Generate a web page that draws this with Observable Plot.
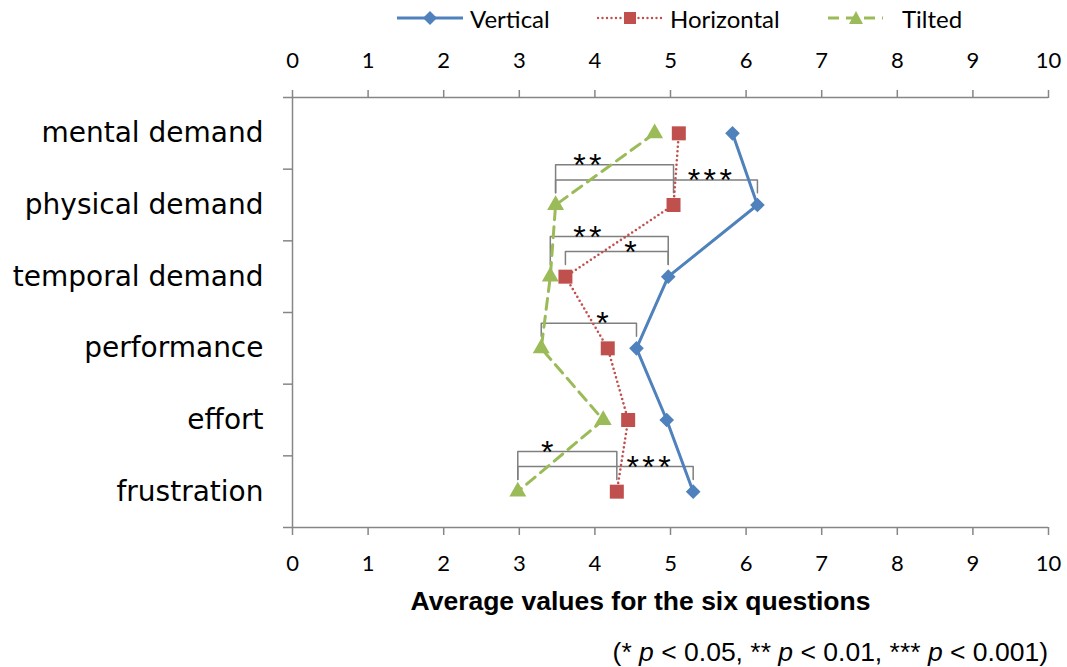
<!DOCTYPE html>
<html><head><meta charset="utf-8">
<script src="https://cdn.jsdelivr.net/npm/d3@7"></script>
<script src="https://cdn.jsdelivr.net/npm/@observablehq/plot@0.6"></script>
<style>
body{margin:0;background:#fff;width:1067px;height:667px;overflow:hidden;font-family:Lato,sans-serif}
#legend{position:relative;height:38px}
.item{position:absolute;top:-1px;height:38px;display:flex;align-items:center;font-size:24px;color:#000;white-space:nowrap}
.item svg{margin-right:7px;display:block}
#chart svg{display:block}
#caption{font-family:"Liberation Sans",Arial,sans-serif;font-size:26.5px;text-align:right;padding-right:19px;line-height:28px;color:#000}
</style></head><body>
<div id="legend"></div>
<div id="chart"></div>
<div id="caption">(* <i>p</i> &lt; 0.05, ** <i>p</i> &lt; 0.01, *** <i>p</i> &lt; 0.001)</div>
<script>
// ---- data ----
const categories = ["mental demand", "physical demand", "temporal demand", "performance", "effort", "frustration"];
const seriesNames = ["Vertical", "Horizontal", "Tilted"];
const vertical   = [5.82, 6.15, 4.97, 4.55, 4.95, 5.30];
const horizontal = [5.11, 5.04, 3.61, 4.17, 4.44, 4.29];
const tilted     = [4.79, 3.48, 3.41, 3.29, 4.11, 2.98];
const xTicks = [0, 1, 2, 3, 4, 5, 6, 7, 8, 9, 10];
const xTitle = "Average values for the six questions";

// significance brackets
const bracketCategory = ["physical demand", "physical demand", "temporal demand", "temporal demand", "performance", "frustration", "frustration"];
const bracketFrom  = ["Tilted", "Tilted", "Tilted", "Horizontal", "Tilted", "Tilted", "Tilted"];
const bracketTo    = ["Horizontal", "Vertical", "Vertical", "Vertical", "Vertical", "Horizontal", "Vertical"];
const bracketLevel = [2, 1, 2, 1, 1, 2, 1];
const bracketLabel = ["**", "***", "**", "*", "*", "*", "***"];
const bracketLabelX = [3.90, 5.52, 3.90, 4.47, 4.10, 3.37, 4.71];

// ---- styles ----
const colors = {Vertical: "#4F81BD", Horizontal: "#C0504D", Tilted: "#9BBB59"};
const axisGray = "#868686";

// ---- build tables ----
const seriesValues = {Vertical: vertical, Horizontal: horizontal, Tilted: tilted};
const rows = [];
seriesNames.forEach(s => categories.forEach((c, i) => rows.push({series: s, category: c, pos: i + 0.5, value: seriesValues[s][i]})));
const bySeries = s => rows.filter(r => r.series === s);

const levelOffset = {1: -0.35, 2: -0.56};
const legOffset = -0.17;
const bracketPts = [];
const bracketLabels = [];
bracketCategory.forEach((c, b) => {
  const i = categories.indexOf(c);
  const yc = i + 0.5;
  const x1 = seriesValues[bracketFrom[b]][i];
  const x2 = seriesValues[bracketTo[b]][i];
  const top = yc + levelOffset[bracketLevel[b]];
  const leg = yc + legOffset;
  bracketPts.push({id: b, x: x1, y: leg}, {id: b, x: x1, y: top}, {id: b, x: x2, y: top}, {id: b, x: x2, y: leg});
  bracketLabels.push({x: bracketLabelX[b], y: top, label: bracketLabel[b]});
});

// ---- legend ----
const legendLeft = {Vertical: 397, Horizontal: 597, Tilted: 828};
const legend = document.getElementById("legend");
const swatch = {
  Vertical: `<svg width="66" height="38"><line x1="0" y1="19" x2="66" y2="19" stroke="${colors.Vertical}" stroke-width="3"/><polygon points="33,12 40,19 33,26 26,19" fill="${colors.Vertical}"/></svg>`,
  Horizontal: `<svg width="66" height="38"><line x1="1" y1="19" x2="66" y2="19" stroke="${colors.Horizontal}" stroke-width="2.4" stroke-dasharray="0 4.5" stroke-linecap="round"/><rect x="27" y="13" width="12" height="12" fill="${colors.Horizontal}"/></svg>`,
  Tilted: `<svg width="67" height="38"><line x1="0" y1="19" x2="55" y2="19" stroke="${colors.Tilted}" stroke-width="3" stroke-dasharray="11 7"/><polygon points="28,12 35,25 21,25" fill="${colors.Tilted}"/></svg>`
};
seriesNames.forEach(s => {
  const d = document.createElement("div");
  d.className = "item";
  d.style.left = legendLeft[s] + "px";
  d.innerHTML = swatch[s] + `<span>${s}</span>`;
  legend.appendChild(d);
});

// ---- chart ----
const chart = Plot.plot({
  width: 1067, height: 600,
  marginLeft: 292, marginRight: 19, marginTop: 59, marginBottom: 111,
  x: {domain: [0, 10]},
  y: {domain: [0, 6], reverse: true},
  style: {fontFamily: "Lato, sans-serif", background: "white", color: "black", overflow: "visible"},
  marks: [
    Plot.ruleY([0, 6], {stroke: axisGray, strokeWidth: 1.5}),
    Plot.ruleX([0], {stroke: axisGray, strokeWidth: 1.5}),
    Plot.axisX({anchor: "top", ticks: xTicks, tickSize: 8, tickPadding: 22, fontSize: 22, stroke: axisGray, strokeWidth: 1.5, fill: "black", label: null}),
    Plot.axisX({anchor: "bottom", ticks: xTicks, tickSize: 8, tickPadding: 20, fontSize: 22, stroke: axisGray, strokeWidth: 1.5, fill: "black", label: null}),
    Plot.axisY({ticks: d3.range(7), tickSize: 9, tickFormat: () => "", stroke: axisGray, strokeWidth: 1.5, label: null}),
    Plot.axisY({ticks: categories.map((c, i) => i + 0.5), tickSize: 0, tickPadding: 29, tickFormat: v => categories[Math.floor(v)], fontSize: 28, fontFamily: "DejaVu Sans", fill: "black", label: null}),
    Plot.line(bracketPts, {x: "x", y: "y", z: "id", stroke: "#7f7f7f", strokeWidth: 1.5, curve: "linear"}),
    Plot.line(bySeries("Tilted"), {x: "value", y: "pos", stroke: colors.Tilted, strokeWidth: 3, strokeDasharray: "11 7"}),
    Plot.line(bySeries("Horizontal"), {x: "value", y: "pos", stroke: colors.Horizontal, strokeWidth: 2.6, strokeDasharray: "0 4.5", strokeLinecap: "round"}),
    Plot.line(bySeries("Vertical"), {x: "value", y: "pos", stroke: colors.Vertical, strokeWidth: 3}),
    Plot.dot(bySeries("Tilted"), {x: "value", y: "pos", symbol: "triangle", r: 6.3, fill: colors.Tilted}),
    Plot.dot(bySeries("Horizontal"), {x: "value", y: "pos", symbol: "square", r: 7.9, fill: colors.Horizontal}),
    Plot.dot(bySeries("Vertical"), {x: "value", y: "pos", symbol: "diamond2", r: 6.6, fill: colors.Vertical}),
    Plot.text(bracketLabels, {x: "x", y: "y", text: "label", fontSize: 32, fontFamily: "Liberation Sans, Arial, sans-serif", lineAnchor: "bottom", dy: 11, fill: "black"}),
    Plot.text([xTitle], {frameAnchor: "bottom", dy: 74, dx: -30, fontSize: 26.5, fontWeight: "bold", fontFamily: "Liberation Sans, Arial, sans-serif", fill: "black", lineAnchor: "middle"})
  ]
});
// spread the significance asterisks like the original
d3.select(chart).selectAll("text").filter(function () { return /^\*+$/.test(this.textContent); })
  .attr("letter-spacing", "3.5px").attr("dx", "1.75");
document.getElementById("chart").appendChild(chart);
</script>
</body></html>
